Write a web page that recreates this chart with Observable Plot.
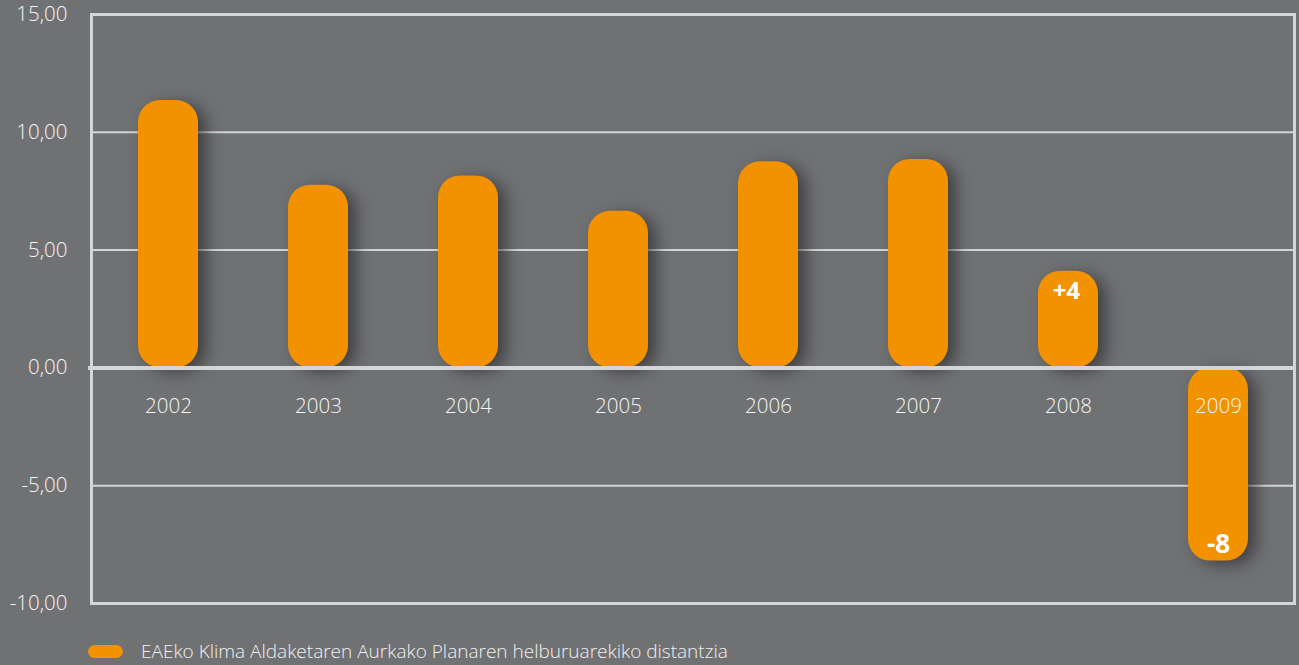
<!DOCTYPE html>
<html>
<head>
<meta charset="utf-8">
<script src="https://cdn.jsdelivr.net/npm/d3@7"></script>
<script src="https://cdn.jsdelivr.net/npm/@observablehq/plot@0.6"></script>
<style>
  html, body { margin: 0; padding: 0; background: #707173; }
  #chart { width: 1299px; height: 665px; position: relative; background: #707173; overflow: hidden; }
  g[aria-label="bar"] rect { filter: drop-shadow(8px 4px 8px rgba(30,30,30,0.6)); }
  #legend { position: absolute; left: 88px; top: 641px; height: 20px; display: flex; align-items: center;
    font-family: "Open Sans", sans-serif; font-weight: 300; font-size: 19px; line-height: 20px; color: #f0f0f0; }
  #legend .sw { width: 35px; height: 13px; border-radius: 7px; background: #f39200; margin-right: 18px; }
</style>
</head>
<body>
<div id="chart"><div id="legend"><span class="sw"></span><span id="legendText"></span></div></div>
<script>
const years = ["2002","2003","2004","2005","2006","2007","2008","2009"];
const values = [11.35, 7.75, 8.15, 6.65, 8.75, 8.85, 4.1, -8.2];
const valueLabels = [
  {year: "2008", value: 4.1, label: "+4", pos: "top"},
  {year: "2009", value: -8.2, label: "-8", pos: "bottom"}
];
const yTicks = [15, 10, 5, 0, -5, -10];
const gridLines = [10, 5, -5];
const seriesName = "EAEko Klima Aldaketaren Aurkako Planaren helburuarekiko distantzia";

const data = years.map((y, i) => ({year: y, value: values[i]}));
const fmt = d => d.toFixed(2).replace(".", ",");

const chart = Plot.plot({
  width: 1299,
  height: 627,
  marginLeft: 91,
  marginRight: 5,
  marginTop: 14,
  marginBottom: 24,
  style: {background: "#707173", fontFamily: "Open Sans, sans-serif", fontWeight: 300, fontSize: "20px", color: "#f5f5f5"},
  x: {domain: years, paddingInner: 0.6, paddingOuter: 0.3, axis: null},
  y: {domain: [-10, 15], ticks: yTicks, tickFormat: fmt, label: null},
  marks: [
    Plot.ruleY(gridLines, {stroke: "#d4d5d6", strokeWidth: 2}),
    Plot.axisY(yTicks, {tickSize: 0, tickPadding: 24, tickFormat: fmt, fill: "#f5f5f5", fontSize: 20.5, label: null}),
    Plot.barY(data, {x: "year", y: "value", fill: "#f39200", rx: 22}),
    Plot.ruleY([0], {stroke: "#d4d5d6", strokeWidth: 4, insetLeft: -3}),
    Plot.text(data, {x: "year", y: 0, text: "year", dy: 39, fill: "#f5f5f5", fontSize: 20.5, fontWeight: 300}),
    Plot.text(valueLabels.filter(d => d.pos === "top"), {x: "year", y: "value", text: "label", dy: 20, dx: -2, fill: "#ffffff", fontSize: 24, fontWeight: 700}),
    Plot.text(valueLabels.filter(d => d.pos === "bottom"), {x: "year", y: "value", text: "label", dy: -16, fill: "#ffffff", fontSize: 26, fontWeight: 700}),
    Plot.frame({stroke: "#d4d5d6", strokeWidth: 3})
  ]
});
document.getElementById("chart").prepend(chart);
document.getElementById("legendText").textContent = seriesName;
</script>
</body>
</html>
